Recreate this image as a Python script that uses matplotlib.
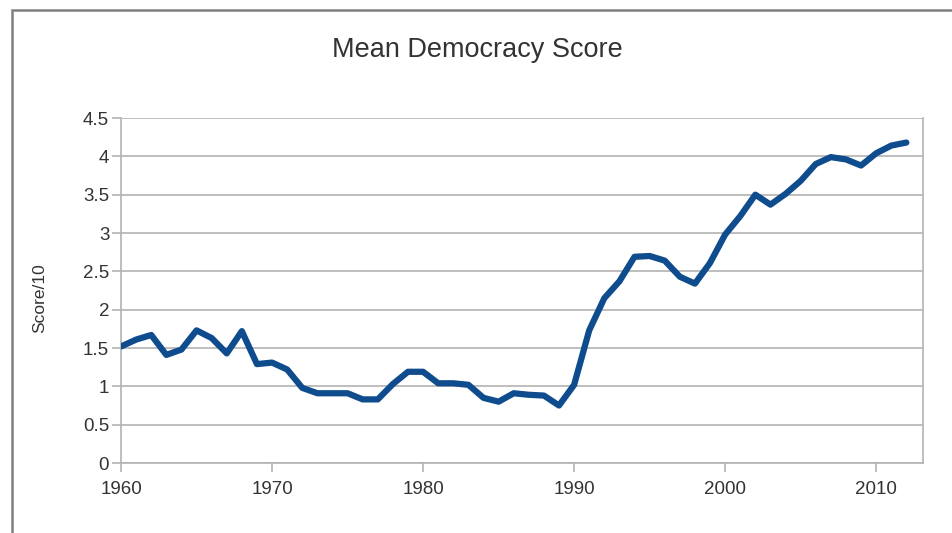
import matplotlib
matplotlib.use("Agg")
import matplotlib.pyplot as plt
from matplotlib.patches import Rectangle

years = list(range(1960, 2013))
scores = [1.52, 1.61, 1.67, 1.41, 1.48, 1.73, 1.63, 1.43, 1.72, 1.29,
          1.31, 1.22, 0.98, 0.91, 0.91, 0.91, 0.83, 0.83, 1.03, 1.19,
          1.19, 1.04, 1.04, 1.02, 0.85, 0.80, 0.91, 0.89, 0.88, 0.75,
          1.02, 1.73, 2.15, 2.37, 2.69, 2.70, 2.64, 2.43, 2.34, 2.61,
          2.98, 3.22, 3.50, 3.37, 3.51, 3.68, 3.90, 3.99, 3.96, 3.88,
          4.04, 4.14, 4.18]
xticks = [1960, 1970, 1980, 1990, 2000, 2010]
yticks = [0, 0.5, 1, 1.5, 2, 2.5, 3, 3.5, 4, 4.5]
ytick_labels = ["0", "0.5", "1", "1.5", "2", "2.5", "3", "3.5", "4", "4.5"]

plt.rcParams['font.family'] = ['Liberation Sans', 'DejaVu Sans']

fig = plt.figure(figsize=(9.53, 5.33), dpi=100)
ax = fig.add_axes([0.127, 0.1313, 0.8415, 0.6473])

ax.plot(years, scores, color='#0f4c8e', linewidth=4.5, solid_joinstyle='round',
        solid_capstyle='round', zorder=3)

ax.set_xlim(1960, 2013.1)
ax.set_ylim(0, 4.5)
ax.set_xticks(xticks)
ax.set_yticks(yticks)
ax.set_yticklabels(ytick_labels)
ax.grid(axis='y', color='#b3b3b3', linewidth=1.2)
ax.set_axisbelow(True)
for s in ['left', 'right', 'bottom', 'top']:
    ax.spines[s].set_color('#b3b3b3')
    ax.spines[s].set_linewidth(1.2)
ax.spines['top'].set_visible(False)
ax.tick_params(axis='both', colors='#b3b3b3', length=6.5, width=1.2, labelsize=13.5,
               labelcolor='#333333')
ax.tick_params(axis='y', pad=2)
ax.tick_params(axis='x', pad=6.5)

ax.set_ylabel("Score/10", fontsize=12.5, color='#333333')
ax.yaxis.set_label_coords(-0.092, 0.478)
fig.text(0.501, 0.907, "Mean Democracy Score", ha='center', va='center',
         fontsize=19.5, color='#333333')

# outer border (frame of the screenshot)
fig.patches.append(Rectangle((12 / 953, -0.1), 1.2, (533 - 10) / 533 + 0.1,
                             transform=fig.transFigure, fill=False,
                             edgecolor='#808080', linewidth=1.8))

fig.savefig("out.png", dpi=100)
